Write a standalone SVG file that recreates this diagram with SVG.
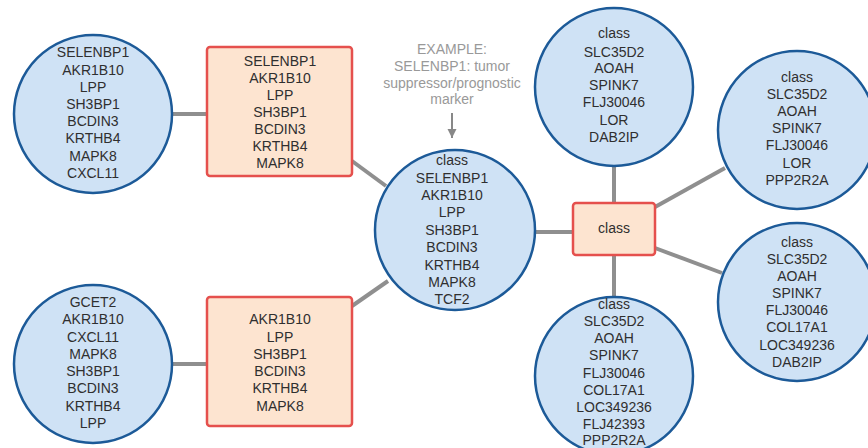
<svg xmlns="http://www.w3.org/2000/svg" width="868" height="448" viewBox="0 0 868 448">
<style>
.c{fill:#cfe2f5;stroke:#1c5a98;stroke-width:2.5}
.r{fill:#fde4d0;stroke:#e5504d;stroke-width:2.5}
.e{stroke:#8f8f8f;stroke-width:4;fill:none}
text{font-family:"Liberation Sans",Arial,sans-serif;font-size:14px;fill:#2f2f2f;text-anchor:middle}
.n{fill:#999}
</style>
<defs>
<marker id="ah" markerWidth="10" markerHeight="10" refX="9" refY="4.5" orient="auto" markerUnits="userSpaceOnUse">
<path d="M0,0 L9,4.5 L0,9 Z" fill="#888"/>
</marker>
</defs>
<rect width="868" height="448" fill="#fff"/>
<g id="connectors">
<line class="e" x1="172" y1="114" x2="207" y2="114"/>
<line class="e" x1="172" y1="364" x2="207" y2="364"/>
<line class="e" x1="352" y1="161" x2="386" y2="186"/>
<line class="e" x1="352" y1="306" x2="388" y2="281"/>
<line class="e" x1="535" y1="232" x2="573" y2="232"/>
<line class="e" x1="614" y1="167" x2="614" y2="203"/>
<line class="e" x1="614" y1="255" x2="614" y2="297"/>
<line class="e" x1="655" y1="207" x2="725" y2="168"/>
<line class="e" x1="655" y1="248" x2="722" y2="273"/>
</g>
<g id="note">
<text class="n" x="452" y="54">EXAMPLE:</text>
<text class="n" x="452" y="71">SELENBP1: tumor</text>
<text class="n" x="452" y="88">suppressor/prognostic</text>
<text class="n" x="452" y="104">marker</text>
<line x1="452" y1="113" x2="452" y2="138" stroke="#888" stroke-width="2" marker-end="url(#ah)"/>
</g>
<g id="c1">
<circle class="c" cx="93" cy="114" r="79"/>
<text x="93" y="57">SELENBP1</text><text x="93" y="75">AKR1B10</text><text x="93" y="92">LPP</text><text x="93" y="109">SH3BP1</text><text x="93" y="126">BCDIN3</text><text x="93" y="143">KRTHB4</text><text x="93" y="161">MAPK8</text><text x="93" y="178">CXCL11</text>
</g>
<g id="r1">
<rect class="r" x="207" y="47" width="145" height="129" rx="3"/>
<text x="280" y="66">SELENBP1</text><text x="280" y="83">AKR1B10</text><text x="280" y="100">LPP</text><text x="280" y="117">SH3BP1</text><text x="280" y="134">BCDIN3</text><text x="280" y="151">KRTHB4</text><text x="280" y="168">MAPK8</text>
</g>
<g id="c2">
<circle class="c" cx="93" cy="364" r="79"/>
<text x="93" y="307">GCET2</text><text x="93" y="324">AKR1B10</text><text x="93" y="342">CXCL11</text><text x="93" y="359">MAPK8</text><text x="93" y="376">SH3BP1</text><text x="93" y="393">BCDIN3</text><text x="93" y="411">KRTHB4</text><text x="93" y="428">LPP</text>
</g>
<g id="r2">
<rect class="r" x="207" y="297" width="145" height="129" rx="3"/>
<text x="280" y="324">AKR1B10</text><text x="280" y="342">LPP</text><text x="280" y="359">SH3BP1</text><text x="280" y="376">BCDIN3</text><text x="280" y="393">KRTHB4</text><text x="280" y="411">MAPK8</text>
</g>
<g id="center">
<circle class="c" cx="455" cy="230" r="80"/>
<text x="452" y="165">class</text><text x="452" y="183">SELENBP1</text><text x="452" y="200">AKR1B10</text><text x="452" y="217">LPP</text><text x="452" y="235">SH3BP1</text><text x="452" y="252">BCDIN3</text><text x="452" y="270">KRTHB4</text><text x="452" y="287">MAPK8</text><text x="452" y="304">TCF2</text>
</g>
<g id="hub">
<rect class="r" x="573" y="203" width="82" height="52" rx="3"/>
<text x="614" y="233">class</text>
</g>
<g id="top">
<circle class="c" cx="614" cy="87" r="79"/>
<text x="614" y="38">class</text><text x="614" y="57">SLC35D2</text><text x="614" y="73">AOAH</text><text x="614" y="90">SPINK7</text><text x="614" y="107">FLJ30046</text><text x="614" y="125">LOR</text><text x="614" y="142">DAB2IP</text>
</g>
<g id="topright">
<circle class="c" cx="797" cy="130" r="79"/>
<text x="797" y="82">class</text><text x="797" y="99">SLC35D2</text><text x="797" y="116">AOAH</text><text x="797" y="133">SPINK7</text><text x="797" y="150">FLJ30046</text><text x="797" y="168">LOR</text><text x="797" y="185">PPP2R2A</text>
</g>
<g id="bottomright">
<circle class="c" cx="797" cy="302" r="79"/>
<text x="797" y="247">class</text><text x="797" y="264">SLC35D2</text><text x="797" y="281">AOAH</text><text x="797" y="298">SPINK7</text><text x="797" y="315">FLJ30046</text><text x="797" y="332">COL17A1</text><text x="797" y="350">LOC349236</text><text x="797" y="367">DAB2IP</text>
</g>
<g id="bottom">
<circle class="c" cx="614" cy="376" r="79"/>
<text x="614" y="309">class</text><text x="614" y="326">SLC35D2</text><text x="614" y="343">AOAH</text><text x="614" y="360">SPINK7</text><text x="614" y="378">FLJ30046</text><text x="614" y="395">COL17A1</text><text x="614" y="412">LOC349236</text><text x="614" y="429">FLJ42393</text><text x="614" y="445">PPP2R2A</text>
</g>
</svg>
